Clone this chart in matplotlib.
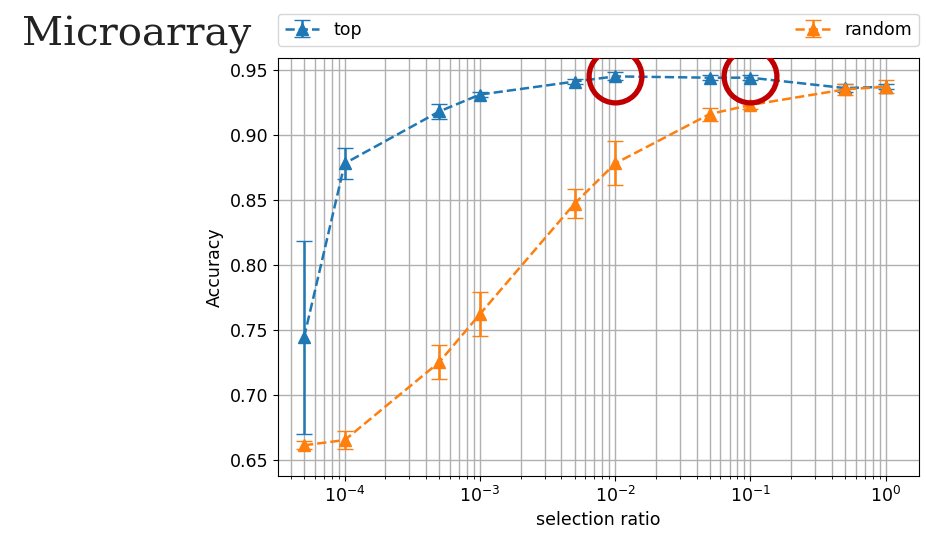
import numpy as np
import matplotlib
matplotlib.use("Agg")
import matplotlib.pyplot as plt

# selection ratios
ratios = [5e-5, 1e-4, 5e-4, 1e-3, 5e-3, 1e-2, 5e-2, 1e-1, 5e-1, 1.0]

top_acc = [0.744, 0.878, 0.918, 0.931, 0.941, 0.945, 0.944, 0.944, 0.936, 0.937]
top_err = [0.074, 0.012, 0.006, 0.002, 0.002, 0.003, 0.002, 0.002, 0.003, 0.002]

rand_acc = [0.661, 0.665, 0.725, 0.762, 0.847, 0.878, 0.916, 0.923, 0.935, 0.937]
rand_err = [0.003, 0.007, 0.013, 0.017, 0.011, 0.017, 0.005, 0.003, 0.004, 0.005]

# points circled in red
highlight_x = [1e-2, 1e-1]
highlight_y = [0.945, 0.945]

fig = plt.figure(figsize=(9.26, 5.34), dpi=100)
ax = fig.add_axes([0.300, 0.109, 0.692, 0.782])

ax.errorbar(ratios, top_acc, yerr=top_err, fmt='^--', color='#1f77b4',
            markersize=9, capsize=6, elinewidth=1.8, lw=1.8, label='top')
ax.errorbar(ratios, rand_acc, yerr=rand_err, fmt='^--', color='#ff7f0e',
            markersize=9, capsize=6, elinewidth=1.8, lw=1.8, label='random')

ax.plot(highlight_x, highlight_y, 'o', markersize=38, markerfacecolor='none',
        markeredgecolor='#c00000', markeredgewidth=3.8, zorder=5)

ax.set_xscale('log')
ax.set_xlim(3.2e-5, 1.75)
ax.set_ylim(0.6375, 0.959)
ax.set_yticks([0.65, 0.70, 0.75, 0.80, 0.85, 0.90, 0.95])
ax.grid(True, which='major', color='#b0b0b0', lw=1.0)
ax.grid(True, which='minor', axis='x', color='#b0b0b0', lw=1.0)
ax.tick_params(labelsize=12.5)
ax.set_xlabel('selection ratio', fontsize=12.5)
ax.set_ylabel('Accuracy', fontsize=12.5)

ax.legend(bbox_to_anchor=(0.0, 1.03, 1.0, 0.1), loc='lower left', mode='expand',
          ncol=2, borderaxespad=0, fontsize=12.5)

fig.text(0.024, 0.915, 'Microarray', family='DejaVu Serif', fontsize=29,
         color='#222222')

fig.savefig('out.png', dpi=100)
